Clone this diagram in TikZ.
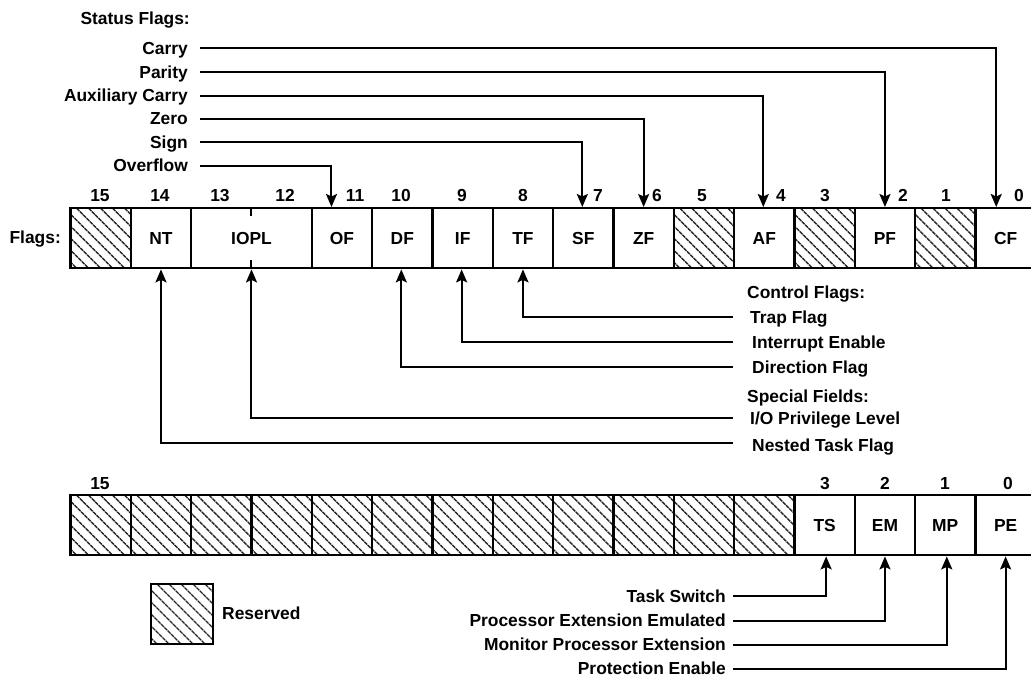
\documentclass[tikz,border=0pt]{standalone}
\usepackage{fontspec}
\setmainfont{Liberation Sans}
\usetikzlibrary{arrows.meta}
\newcommand\lblfont{\fontsize{17.4}{20}\bfseries\selectfont}
\begin{document}
\begin{tikzpicture}[x=1pt,y=-1pt,
  cell/.style={draw, line width=2.4pt, minimum width=60.33pt, minimum height=60pt, inner sep=0pt, anchor=north west, font=\lblfont},
  hatch/.style={cell, path picture={\foreach \d in {-66,-54,...,66}{\draw[line width=1.4pt, black!85, dash pattern=on 4pt off 0.7pt] ([xshift=\d pt]path picture bounding box.north west) -- ++(66,66);}}},
  lbl/.style={font=\lblfont, inner sep=0pt, text height=12.5pt, text depth=0pt},
  num/.style={font=\lblfont, inner sep=0pt, anchor=base},
  conn/.style={line width=2pt},
  arr/.style={conn, -{Stealth[length=13pt,width=11pt,inset=2.5pt]}}]
\useasboundingbox (0,0) rectangle (1031,677);

% ---- top register (Flags) ----
\node[lbl, anchor=east] (flags) at (61,237) {Flags:};
\node[hatch] (t15) at (69.3,207) {};
\node[cell] (t14) at (129.63,207) {NT};
\node[cell, minimum width=120.66pt] (t13) at (189.96,207) {IOPL};
\node[cell] (t11) at (310.62,207) {OF};
\node[cell] (t10) at (370.95,207) {DF};
\node[cell] (t9) at (431.28,207) {IF};
\node[cell] (t8) at (491.61,207) {TF};
\node[cell] (t7) at (551.94,207) {SF};
\node[cell] (t6) at (612.27,207) {ZF};
\node[hatch] (t5) at (672.6,207) {};
\node[cell] (t4) at (732.93,207) {AF};
\node[hatch] (t3) at (793.26,207) {};
\node[cell] (t2) at (853.59,207) {PF};
\node[hatch] (t1) at (913.92,207) {};
\node[cell] (t0) at (974.25,207) {CF};
\draw[line width=2pt] (t13.north) -- ++(0,9);
\draw[line width=2pt] (t13.south) -- ++(0,-9);

% bit numbers
\node[num] (n15) at (100,201.5) {15};
\node[num] (n14) at (160,201.5) {14};
\node[num] (n13) at (220,201.5) {13};
\node[num] (n12) at (285,201.5) {12};
\node[num] (n11) at (355,201.5) {11};
\node[num] (n10) at (401,201.5) {10};
\node[num] (n9) at (462,201.5) {9};
\node[num] (n8) at (523,201.5) {8};
\node[num] (n7) at (598,201.5) {7};
\node[num] (n6) at (657,201.5) {6};
\node[num] (n5) at (702,201.5) {5};
\node[num] (n4) at (781,201.5) {4};
\node[num] (n3) at (825,201.5) {3};
\node[num] (n2) at (903,201.5) {2};
\node[num] (n1) at (946,201.5) {1};
\node[num] (n0) at (1019,201.5) {0};

% status flags
\node[lbl, anchor=east] (status) at (190,18) {Status Flags:};
\node[lbl, anchor=east] (carry) at (188,48.5) {Carry};
\node[lbl, anchor=east] (parity) at (188,72) {Parity};
\node[lbl, anchor=east] (aux) at (188,95.5) {Auxiliary Carry};
\node[lbl, anchor=east] (zero) at (188,118.5) {Zero};
\node[lbl, anchor=east] (sign) at (188,142) {Sign};
\node[lbl, anchor=east] (overflow) at (188,165.5) {Overflow};
\draw[arr, shorten <=12pt] (carry.east) -| ([xshift=-9.4pt]t0.north);
\draw[arr, shorten <=12pt] (parity.east) -| (t2.north);
\draw[arr, shorten <=12pt] (aux.east) -| ([xshift=-1pt]t4.north);
\draw[arr, shorten <=12pt] (zero.east) -| (t6.north);
\draw[arr, shorten <=12pt] (sign.east) -| ([xshift=-1pt]t7.north);
\draw[arr, shorten <=12pt] (overflow.east) -| ([xshift=-10.5pt]t11.north);

% control flags / special fields
\node[lbl, anchor=west] (ctrl) at (747,292) {Control Flags:};
\node[lbl, anchor=west] (trap) at (750,317) {Trap Flag};
\node[lbl, anchor=west] (intr) at (752,342) {Interrupt Enable};
\node[lbl, anchor=west] (dir) at (752,367) {Direction Flag};
\node[lbl, anchor=west] (special) at (747,396) {Special Fields:};
\node[lbl, anchor=west] (iopl) at (750,418) {I/O Privilege Level};
\node[lbl, anchor=west] (nested) at (752,445) {Nested Task Flag};
\draw[arr, shorten <=17pt] (trap.west) -| (t8.south);
\draw[arr, shorten <=19pt] (intr.west) -| ([xshift=-1pt]t9.south);
\draw[arr, shorten <=19pt] (dir.west) -| ([xshift=-1pt]t10.south);
\draw[arr, shorten <=17pt] (iopl.west) -| (t13.south);
\draw[arr, shorten <=19pt] ([yshift=2pt]nested.west) -| (t14.south);

% ---- bottom register ----
\node[hatch] (b15) at (69.3,494) {};
\node[hatch] (b14) at (129.63,494) {};
\node[hatch] (b13) at (189.96,494) {};
\node[hatch] (b12) at (250.29,494) {};
\node[hatch] (b11) at (310.62,494) {};
\node[hatch] (b10) at (370.95,494) {};
\node[hatch] (b9) at (431.28,494) {};
\node[hatch] (b8) at (491.61,494) {};
\node[hatch] (b7) at (551.94,494) {};
\node[hatch] (b6) at (612.27,494) {};
\node[hatch] (b5) at (672.6,494) {};
\node[hatch] (b4) at (732.93,494) {};
\node[cell] (b3) at (793.26,494) {TS};
\node[cell] (b2) at (853.59,494) {EM};
\node[cell] (b1) at (913.92,494) {MP};
\node[cell] (b0) at (974.25,494) {PE};

\node[num] (m15) at (100,489.5) {15};
\node[num] (m3) at (825,489.5) {3};
\node[num] (m2) at (885,489.5) {2};
\node[num] (m1) at (945,489.5) {1};
\node[num] (m0) at (1008,489.5) {0};

\node[lbl, anchor=east] (ts) at (726,596) {Task Switch};
\node[lbl, anchor=east] (pee) at (726,620.5) {Processor Extension Emulated};
\node[lbl, anchor=east] (mpe) at (726,644.5) {Monitor Processor Extension};
\node[lbl, anchor=east] (pe) at (726,668.5) {Protection Enable};
\draw[arr, shorten <=7pt] (ts.east) -| ([xshift=1.5pt]b3.south);
\draw[arr, shorten <=7pt] (pee.east) -| (b2.south);
\draw[arr, shorten <=7pt] (mpe.east) -| ([xshift=1.5pt]b1.south);
\draw[arr, shorten <=7pt] (pe.east) -| (b0.south);

% legend
\node[hatch, minimum width=62pt] (legend) at (150,583) {};
\node[lbl, anchor=west] (reserved) at (222,613) {Reserved};
\end{tikzpicture}
\end{document}
